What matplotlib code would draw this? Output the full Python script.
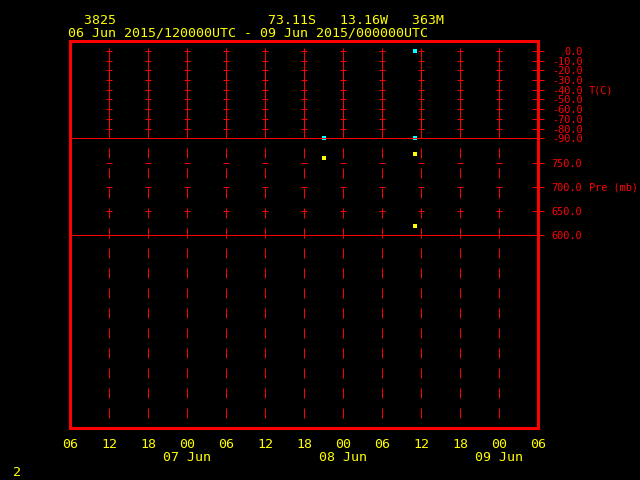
import matplotlib
matplotlib.use("Agg")
import matplotlib.pyplot as plt
import numpy as np

# header info
station = "3825"
lat_txt = "73.11S"
lon_txt = "13.16W"
elev_txt = "363M"
period_txt = "06 Jun 2015/120000UTC - 09 Jun 2015/000000UTC"

# time axis (hours since 06 Jun 06UTC)
hours = list(range(0, 73, 6))
hour_labels = ["06", "12", "18", "00\n07 Jun", "06", "12", "18", "00\n08 Jun",
               "06", "12", "18", "00\n09 Jun", "06"]

temp_ticks = [0, -10, -20, -30, -40, -50, -60, -70, -80, -90]
pres_ticks = [750, 700, 650, 600]

# observations
temp_time = [53]
temp_val = [0.0]
dwpt_time = [39, 53]
dwpt_val = [-90.0, -90.0]
pres_time = [39, 53, 53]
pres_val = [759, 767, 619]

RED = "#ff0000"
YEL = "#ffff00"
CYAN = "#00ffff"
MONO = "DejaVu Sans Mono"
LW = 0.72  # one pixel at 100 dpi

W, H = 640, 480


def box(left, top, right, bottom):
    # pixel box -> figure fraction rect
    return [left / W, 1 - bottom / H, (right - left) / W, (bottom - top) / H]


fig = plt.figure(figsize=(6.4, 4.8), dpi=100, facecolor="black")

# outer frame
ax = fig.add_axes(box(70, 40.5, 538, 428))
ax.set_facecolor("black")
ax.set_xlim(0, 72)
ax.set_ylim(0, 1)
for s in ax.spines.values():
    s.set_color(RED)
    s.set_linewidth(2.2)
ax.set_yticks([])
ax.set_xticks(hours, hour_labels)
ax.tick_params(axis="x", length=0, pad=7, labelcolor=YEL, labelsize=9.5)
for lbl in ax.get_xticklabels():
    lbl.set_fontfamily(MONO)
    lbl.set_linespacing(1.0)

inner = hours[1:-1]
# dashed verticals through pressure section and empty lower panel
top_frac = (428 - 138.3) / 387.5
bot_frac = (428 - 419) / 387.5
for t in inner:
    ax.plot([t, t], [top_frac, bot_frac], transform=ax.get_xaxis_transform(),
            color=RED, lw=LW, ls=(10, (10, 10)), zorder=2, snap=True)

# temperature panel
axt = fig.add_axes(box(70, 40.5, 538, 138.3), sharex=ax)
axt.set_facecolor("none")
axt.set_ylim(-90, 10.8)
for s in axt.spines.values():
    s.set_visible(False)
axt.tick_params(axis="x", bottom=False, labelbottom=False)
axt.yaxis.tick_right()
axt.set_yticks(temp_ticks, [f"{v:.1f}" for v in temp_ticks])
axt.tick_params(axis="y", direction="inout", length=8, width=LW, color=RED,
                labelcolor=RED, labelsize=7.4, pad=28)
plt.setp(axt.get_yticklabels(), ha="right", fontfamily=MONO)
axt.vlines(inner, -90, 3, color=RED, lw=LW, zorder=2, snap=True)
tt, yy = np.meshgrid(inner, temp_ticks)
axt.plot(tt.ravel(), yy.ravel(), ls="none", marker="_", ms=5, mew=LW,
         color=RED, zorder=2)
axt.axhline(-90, color=RED, lw=LW, zorder=4, clip_on=False, snap=True)
axt.plot(temp_time, temp_val, ls="none", marker="s", ms=3.3, mew=0,
         color=CYAN, zorder=3, clip_on=False)
axt.plot(dwpt_time, dwpt_val, ls="none", marker="s", ms=3.3, mew=0,
         color=CYAN, zorder=3, clip_on=False)
axt.annotate("T(C)", xy=(1, -40), xycoords=("axes fraction", "data"),
             xytext=(51, 0), textcoords="offset pixels", va="center_baseline",
             color=RED, fontsize=7.4, fontfamily=MONO)

# pressure panel
axp = fig.add_axes(box(70, 138.3, 538, 235.3), sharex=ax)
axp.set_facecolor("none")
axp.set_ylim(600, 800)
for s in axp.spines.values():
    s.set_visible(False)
axp.tick_params(axis="x", bottom=False, labelbottom=False)
axp.yaxis.tick_right()
axp.set_yticks(pres_ticks, [f"{v:.1f}" for v in pres_ticks])
axp.tick_params(axis="y", direction="inout", length=8, width=LW, color=RED,
                labelcolor=RED, labelsize=7.4, pad=28)
plt.setp(axp.get_yticklabels(), ha="right", fontfamily=MONO)
tp, pp = np.meshgrid(inner, pres_ticks[:-1])
axp.plot(tp.ravel(), pp.ravel(), ls="none", marker="_", ms=5, mew=LW,
         color=RED, zorder=2)
axp.axhline(600, color=RED, lw=LW, zorder=4, clip_on=False, snap=True)
axp.plot(pres_time, pres_val, ls="none", marker="s", ms=3.3, mew=0,
         color=YEL, zorder=3)
axp.annotate("Pre (mb)", xy=(1, 700), xycoords=("axes fraction", "data"),
             xytext=(51, 0), textcoords="offset pixels", va="center_baseline",
             color=RED, fontsize=7.4, fontfamily=MONO)

# header
line1 = "  " + station + " " * 19 + lat_txt + "   " + lon_txt + "   " + elev_txt
fig.text(68 / W, 1 - 23.5 / H, line1, ha="left", va="baseline",
         color=YEL, fontsize=9.5, fontfamily=MONO)
fig.text(68 / W, 1 - 36.5 / H, period_txt, ha="left", va="baseline",
         color=YEL, fontsize=9.5, fontfamily=MONO)
fig.text(17 / W, 1 - 476 / H, "2", ha="center", va="baseline",
         color=YEL, fontsize=9.5, fontfamily=MONO)

fig.savefig("out.png", dpi=100, facecolor="black")
